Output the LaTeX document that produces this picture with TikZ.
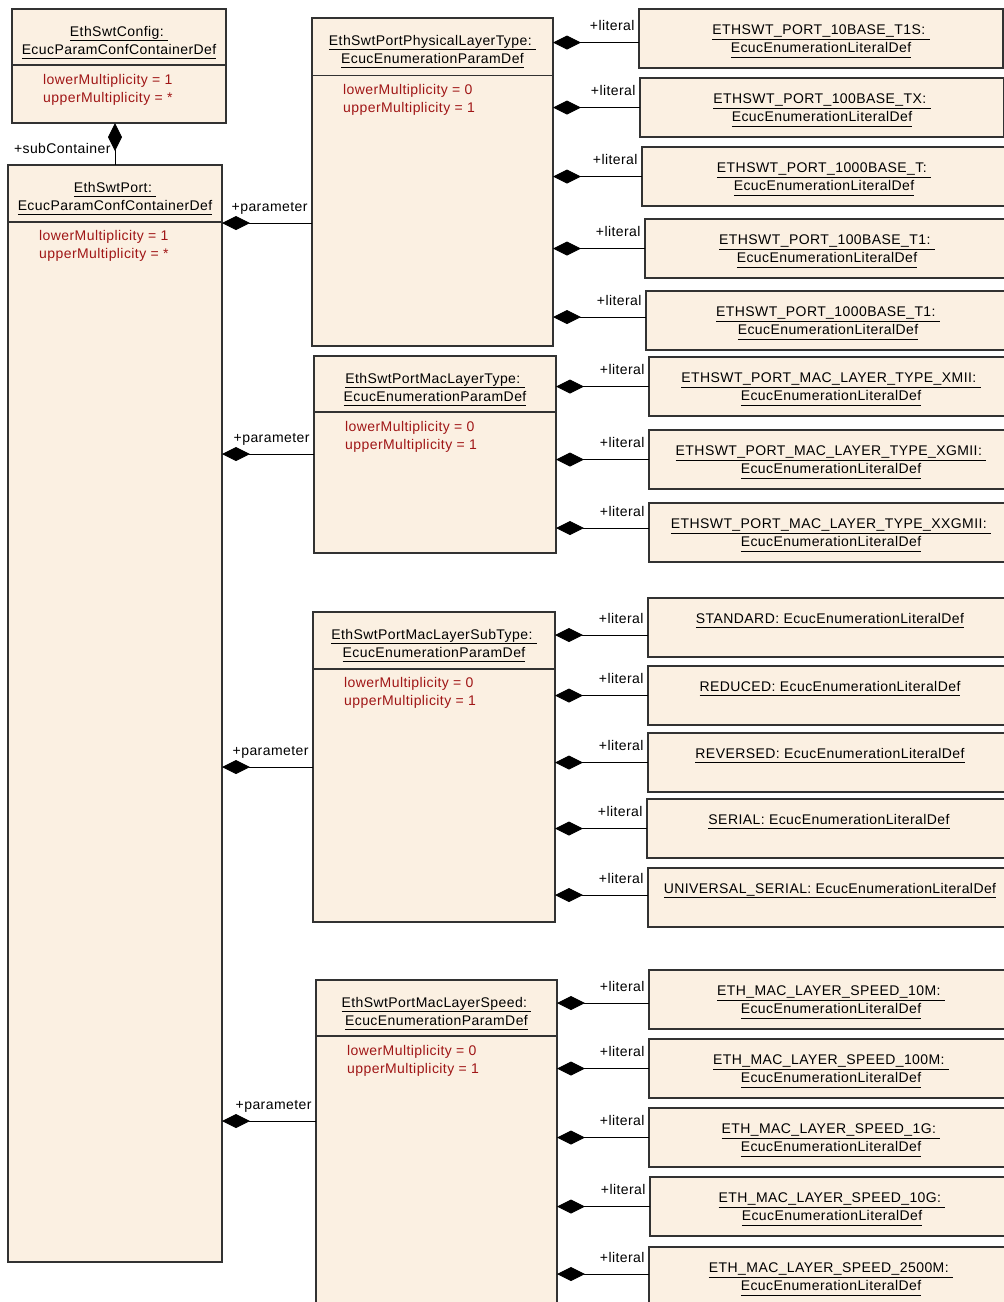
\documentclass[tikz,border=0pt]{standalone}
\usepackage{fontspec}
\setmainfont[LetterSpace=3]{Liberation Sans}
\usetikzlibrary{arrows.meta, calc}
\definecolor{boxfill}{RGB}{251,240,226}
\definecolor{boxline}{RGB}{50,50,50}
\definecolor{attrred}{RGB}{160,22,22}
\newcommand{\udl}[1]{\underline{#1\vphantom{y}}}
\tikzset{
  box/.style={draw=boxline, fill=boxfill, line width=1.2pt, anchor=north west, inner sep=0pt, outer sep=0pt},
  lit/.style={box, minimum width=364pt, minimum height=59pt},
  heading/.style={anchor=north, inner sep=0pt, align=center, font=\fontsize{14}{18}\selectfont},
  attr/.style={anchor=north west, inner sep=0pt, align=left, text=attrred, font=\fontsize{14}{18}\selectfont},
  role/.style={anchor=base east, inner sep=0pt, xshift=-4pt, yshift=12pt, font=\fontsize{14}{18}\selectfont},
  comp/.style={{Diamond[length=28pt, width=14pt]}-, line width=1pt},
}

\begin{document}
\begin{tikzpicture}[x=1pt, y=-1pt]
  \clip (0,0) rectangle (1004,1302);

  % containers
  \node[box, minimum width=214pt, minimum height=114pt] (cfg) at (12,9) {};
  \draw[boxline, line width=1.2pt] ([yshift=-56pt]cfg.north west) -- ([yshift=-56pt]cfg.north east);
  \node[heading] (cfgT) at ([yshift=-17pt]cfg.north) {\udl{EthSwtConfig:\ }\\ \udl{EcucParamConfContainerDef}};
  \node[attr] (cfgA) at ([xshift=31pt, yshift=-65pt]cfg.north west) {lowerMultiplicity = 1\\ upperMultiplicity = *};

  \node[box, minimum width=214pt, minimum height=1097pt] (port) at (8,165) {};
  \draw[boxline, line width=1.2pt] ([yshift=-57pt]port.north west) -- ([yshift=-57pt]port.north east);
  \node[heading] (portT) at ([yshift=-17pt]port.north) {\udl{EthSwtPort:\ }\\ \udl{EcucParamConfContainerDef}};
  \node[attr] (portA) at ([xshift=31pt, yshift=-65pt]port.north west) {lowerMultiplicity = 1\\ upperMultiplicity = *};

  \draw[comp] (cfg.south -| port.north) -- (port.north) node[role] (portR) {+subContainer};

  % enumeration parameters
  \node[box, minimum width=241pt, minimum height=328pt] (phys) at (312,18) {};
  \draw[boxline, line width=1.2pt] ([yshift=-57.5pt]phys.north west) -- ([yshift=-57.5pt]phys.north east);
  \node[heading] (physT) at ([yshift=-17pt]phys.north) {\udl{EthSwtPortPhysicalLayerType:\ }\\ \udl{EcucEnumerationParamDef}};
  \node[attr] (physA) at ([xshift=31pt, yshift=-66pt]phys.north west) {lowerMultiplicity = 0\\ upperMultiplicity = 1};

  \node[box, minimum width=242pt, minimum height=197pt] (mac) at (314,356) {};
  \draw[boxline, line width=1.2pt] ([yshift=-56pt]mac.north west) -- ([yshift=-56pt]mac.north east);
  \node[heading] (macT) at ([yshift=-17pt]mac.north) {\udl{EthSwtPortMacLayerType:\ }\\ \udl{EcucEnumerationParamDef}};
  \node[attr] (macA) at ([xshift=31pt, yshift=-65pt]mac.north west) {lowerMultiplicity = 0\\ upperMultiplicity = 1};

  \node[box, minimum width=242pt, minimum height=310pt] (sub) at (313,612) {};
  \draw[boxline, line width=1.2pt] ([yshift=-57pt]sub.north west) -- ([yshift=-57pt]sub.north east);
  \node[heading] (subT) at ([yshift=-17pt]sub.north) {\udl{EthSwtPortMacLayerSubType:\ }\\ \udl{EcucEnumerationParamDef}};
  \node[attr] (subA) at ([xshift=31pt, yshift=-65pt]sub.north west) {lowerMultiplicity = 0\\ upperMultiplicity = 1};

  \node[box, minimum width=241pt, minimum height=340pt] (speed) at (316,980) {};
  \draw[boxline, line width=1.2pt] ([yshift=-56pt]speed.north west) -- ([yshift=-56pt]speed.north east);
  \node[heading] (speedT) at ([yshift=-17pt]speed.north) {\udl{EthSwtPortMacLayerSpeed:\ }\\ \udl{EcucEnumerationParamDef}};
  \node[attr] (speedA) at ([xshift=31pt, yshift=-65pt]speed.north west) {lowerMultiplicity = 0\\ upperMultiplicity = 1};

  \coordinate (physin) at ([yshift=-205pt]phys.north west);
  \coordinate (macin) at ([yshift=-98pt]mac.north west);
  \coordinate (subin) at ([yshift=-155pt]sub.north west);
  \coordinate (speedin) at ([yshift=-141pt]speed.north west);
  \draw[comp] (port.east |- physin) -- (physin) node[role] (physR) {+parameter};
  \draw[comp] (port.east |- macin) -- (macin) node[role] (macR) {+parameter};
  \draw[comp] (port.east |- subin) -- (subin) node[role] (subR) {+parameter};
  \draw[comp] (port.east |- speedin) -- (speedin) node[role] (speedR) {+parameter};

  % literals of EthSwtPortPhysicalLayerType
  \node[lit] (p1) at (639,9) {};
  \node[lit] (p2) at (640,78) {};
  \node[lit] (p3) at (642,147) {};
  \node[lit] (p4) at (645,219) {};
  \node[lit] (p5) at (646,291) {};
  \node[heading] (p1T) at ([yshift=-16pt]p1.north) {\udl{ETHSWT\_PORT\_10BASE\_T1S:\ }\\ \udl{EcucEnumerationLiteralDef}};
  \node[heading] (p2T) at ([yshift=-16pt]p2.north) {\udl{ETHSWT\_PORT\_100BASE\_TX:\ }\\ \udl{EcucEnumerationLiteralDef}};
  \node[heading] (p3T) at ([yshift=-16pt]p3.north) {\udl{ETHSWT\_PORT\_1000BASE\_T:\ }\\ \udl{EcucEnumerationLiteralDef}};
  \node[heading] (p4T) at ([yshift=-16pt]p4.north) {\udl{ETHSWT\_PORT\_100BASE\_T1:\ }\\ \udl{EcucEnumerationLiteralDef}};
  \node[heading] (p5T) at ([yshift=-16pt]p5.north) {\udl{ETHSWT\_PORT\_1000BASE\_T1:\ }\\ \udl{EcucEnumerationLiteralDef}};
  \coordinate (p1in) at ([yshift=-4pt]p1.west);
  \coordinate (p5in) at ([yshift=3.5pt]p5.west);
  \draw[comp] (phys.east |- p1in) -- (p1in) node[role] (p1R) {+literal};
  \draw[comp] (phys.east |- p2.west) -- (p2.west) node[role] (p2R) {+literal};
  \draw[comp] (phys.east |- p3.west) -- (p3.west) node[role] (p3R) {+literal};
  \draw[comp] (phys.east |- p4.west) -- (p4.west) node[role] (p4R) {+literal};
  \draw[comp] (phys.east |- p5in) -- (p5in) node[role] (p5R) {+literal};

  % literals of EthSwtPortMacLayerType
  \node[lit] (m1) at (649,357) {};
  \node[lit] (m2) at (649,430) {};
  \node[lit] (m3) at (649,503) {};
  \node[heading] (m1T) at ([yshift=-16pt]m1.north) {\udl{ETHSWT\_PORT\_MAC\_LAYER\_TYPE\_XMII:\ }\\ \udl{EcucEnumerationLiteralDef}};
  \node[heading] (m2T) at ([yshift=-16pt]m2.north) {\udl{ETHSWT\_PORT\_MAC\_LAYER\_TYPE\_XGMII:\ }\\ \udl{EcucEnumerationLiteralDef}};
  \node[heading] (m3T) at ([yshift=-16pt]m3.north) {\udl{ETHSWT\_PORT\_MAC\_LAYER\_TYPE\_XXGMII:\ }\\ \udl{EcucEnumerationLiteralDef}};
  \coordinate (m3in) at ([yshift=4.5pt]m3.west);
  \draw[comp] (mac.east |- m1.west) -- (m1.west) node[role] (m1R) {+literal};
  \draw[comp] (mac.east |- m2.west) -- (m2.west) node[role] (m2R) {+literal};
  \draw[comp] (mac.east |- m3in) -- (m3in) node[role] (m3R) {+literal};

  % literals of EthSwtPortMacLayerSubType
  \node[lit] (s1) at (648,598) {};
  \node[lit] (s2) at (648,666) {};
  \node[lit] (s3) at (648,733) {};
  \node[lit] (s4) at (647,799) {};
  \node[lit] (s5) at (648,868) {};
  \node[heading] (s1T) at ([yshift=-15pt]s1.north) {\udl{STANDARD: EcucEnumerationLiteralDef}};
  \node[heading] (s2T) at ([yshift=-15pt]s2.north) {\udl{REDUCED: EcucEnumerationLiteralDef}};
  \node[heading] (s3T) at ([yshift=-15pt]s3.north) {\udl{REVERSED: EcucEnumerationLiteralDef}};
  \node[heading] (s4T) at ([yshift=-15pt]s4.north) {\udl{SERIAL: EcucEnumerationLiteralDef}};
  \node[heading] (s5T) at ([yshift=-15pt]s5.north) {\udl{UNIVERSAL\_SERIAL: EcucEnumerationLiteralDef}};
  \coordinate (s1in) at ([yshift=-7.5pt]s1.west);
  \coordinate (s5in) at ([yshift=2.5pt]s5.west);
  \draw[comp] (sub.east |- s1in) -- (s1in) node[role] (s1R) {+literal};
  \draw[comp] (sub.east |- s2.west) -- (s2.west) node[role] (s2R) {+literal};
  \draw[comp] (sub.east |- s3.west) -- (s3.west) node[role] (s3R) {+literal};
  \draw[comp] (sub.east |- s4.west) -- (s4.west) node[role] (s4R) {+literal};
  \draw[comp] (sub.east |- s5in) -- (s5in) node[role] (s5R) {+literal};

  % literals of EthSwtPortMacLayerSpeed
  \node[lit] (v1) at (649,970) {};
  \node[lit] (v2) at (649,1039) {};
  \node[lit] (v3) at (649,1108) {};
  \node[lit] (v4) at (650,1177) {};
  \node[lit] (v5) at (649,1247) {};
  \node[heading] (v1T) at ([yshift=-16pt]v1.north) {\udl{ETH\_MAC\_LAYER\_SPEED\_10M:\ }\\ \udl{EcucEnumerationLiteralDef}};
  \node[heading] (v2T) at ([yshift=-16pt]v2.north) {\udl{ETH\_MAC\_LAYER\_SPEED\_100M:\ }\\ \udl{EcucEnumerationLiteralDef}};
  \node[heading] (v3T) at ([yshift=-16pt]v3.north) {\udl{ETH\_MAC\_LAYER\_SPEED\_1G:\ }\\ \udl{EcucEnumerationLiteralDef}};
  \node[heading] (v4T) at ([yshift=-16pt]v4.north) {\udl{ETH\_MAC\_LAYER\_SPEED\_10G:\ }\\ \udl{EcucEnumerationLiteralDef}};
  \node[heading] (v5T) at ([yshift=-16pt]v5.north) {\udl{ETH\_MAC\_LAYER\_SPEED\_2500M:\ }\\ \udl{EcucEnumerationLiteralDef}};
  \coordinate (v1in) at ([yshift=-3.5pt]v1.west);
  \coordinate (v5in) at ([yshift=2.5pt]v5.west);
  \draw[comp] (speed.east |- v1in) -- (v1in) node[role] (v1R) {+literal};
  \draw[comp] (speed.east |- v2.west) -- (v2.west) node[role] (v2R) {+literal};
  \draw[comp] (speed.east |- v3.west) -- (v3.west) node[role] (v3R) {+literal};
  \draw[comp] (speed.east |- v4.west) -- (v4.west) node[role] (v4R) {+literal};
  \draw[comp] (speed.east |- v5in) -- (v5in) node[role] (v5R) {+literal};
\end{tikzpicture}
\end{document}
